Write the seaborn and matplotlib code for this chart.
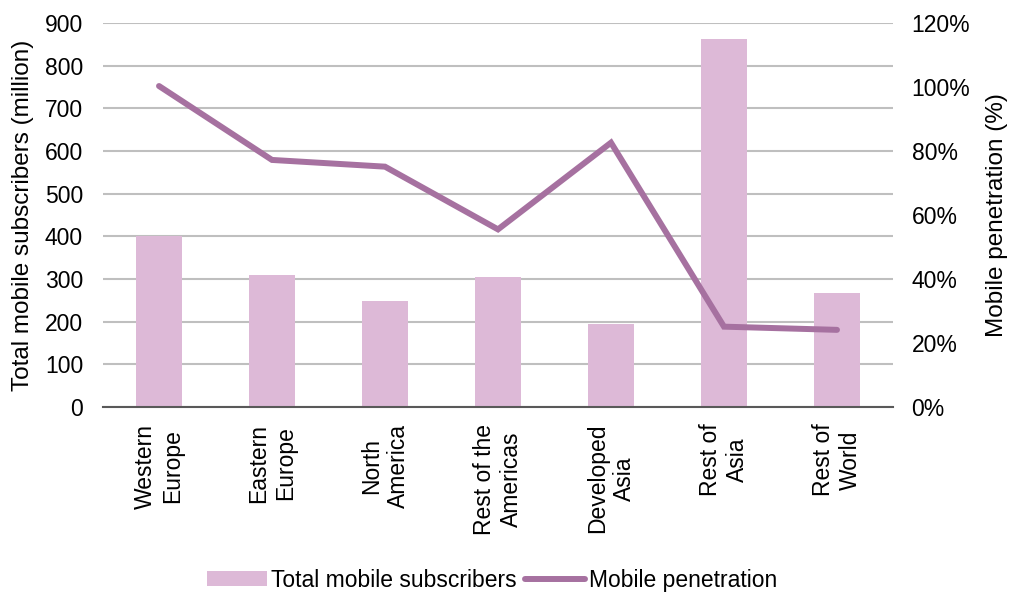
import matplotlib
matplotlib.use("Agg")
import matplotlib.pyplot as plt
import seaborn as sns
import pandas as pd
from matplotlib.ticker import FixedLocator, FuncFormatter

regions = ["Western\nEurope", "Eastern\nEurope", "North\nAmerica", "Rest of the\nAmericas",
           "Developed\nAsia", "Rest of\nAsia", "Rest of\nWorld"]
subscribers = [400, 309, 248, 304, 195, 862, 267]          # million
penetration = [100.3, 77.2, 75.1, 55.5, 82.6, 25.1, 24.1]  # percent
left_ticks = [0, 100, 200, 300, 400, 500, 600, 700, 800, 900]
right_ticks = [0, 20, 40, 60, 80, 100, 120]

BAR_COLOR = "#DDB9D7"
LINE_COLOR = "#A671A0"
GRID_COLOR = "#BFBFBF"
TEXT_COLOR = "#000000"
FS = 16.5
FS_LABEL = 17.5

sns.set_theme(style="white")
plt.rcParams["font.family"] = ["Liberation Sans", "DejaVu Sans"]
plt.rcParams["text.color"] = TEXT_COLOR

df = pd.DataFrame({"region": regions, "subscribers": subscribers,
                   "penetration": penetration, "pos": range(len(regions))})

fig = plt.figure(figsize=(10.09, 5.97), dpi=100)
ax1 = fig.add_axes([0.1016, 0.3183, 0.7839, 0.6432])

sns.barplot(data=df, x="region", y="subscribers", color=BAR_COLOR, saturation=1,
            width=0.41, ax=ax1, label="Total mobile subscribers", linewidth=0, zorder=2)
if ax1.get_legend() is not None:
    ax1.get_legend().remove()
ax1.set_ylim(0, 900)
ax1.set_xlim(-0.5, len(regions) - 0.5)
ax1.yaxis.set_major_locator(FixedLocator(left_ticks))
ax1.grid(axis="y", color=GRID_COLOR, linewidth=1.5, zorder=0)
ax1.set_axisbelow(True)
ax1.set_xlabel("")
ax1.set_ylabel("Total mobile subscribers (million)", fontsize=FS_LABEL, color=TEXT_COLOR)
ax1.yaxis.set_label_coords(-0.086, 0.5)
ax1.tick_params(axis="y", length=0, pad=14, labelsize=FS, labelcolor=TEXT_COLOR)
ax1.tick_params(axis="x", length=0, pad=12, labelsize=FS, labelcolor=TEXT_COLOR)
for lbl in ax1.get_xticklabels():
    lbl.set_rotation(90)
    lbl.set_ha("center")
    lbl.set_va("top")
    lbl.set_multialignment("center")
for side in ["left", "right", "top"]:
    ax1.spines[side].set_visible(False)
ax1.spines["bottom"].set_color("#595959")
ax1.spines["bottom"].set_linewidth(1.5)
ax1.spines["bottom"].set_zorder(3)

ax2 = ax1.twinx()
sns.lineplot(data=df, x="pos", y="penetration", sort=False, color=LINE_COLOR,
             linewidth=4.3, ax=ax2, label="Mobile penetration",
             solid_capstyle="round", solid_joinstyle="miter")
ax2.set_ylim(0, 120)
ax2.yaxis.set_major_locator(FixedLocator(right_ticks))
ax2.yaxis.set_major_formatter(FuncFormatter(lambda v, p: f"{v:.0f}%"))
ax2.set_ylabel("Mobile penetration (%)", fontsize=FS_LABEL, color=TEXT_COLOR)
ax2.yaxis.set_label_coords(1.117, 0.5)
ax2.tick_params(axis="y", length=0, pad=13, labelsize=FS, labelcolor=TEXT_COLOR)
ax2.grid(False)
for side in ["left", "right", "top", "bottom"]:
    ax2.spines[side].set_visible(False)

h1, l1 = ax1.get_legend_handles_labels()
h2, l2 = ax2.get_legend_handles_labels()
ax2.get_legend().remove()
leg = fig.legend(h1 + h2, l1 + l2, loc="center", bbox_to_anchor=(0.488, 0.028), ncol=2,
                 frameon=False, fontsize=FS, handlelength=2.6, handleheight=0.65,
                 handletextpad=0.2, columnspacing=0.35, borderpad=0)
for t in leg.get_texts():
    t.set_color(TEXT_COLOR)

fig.savefig("out.png", dpi=100)
